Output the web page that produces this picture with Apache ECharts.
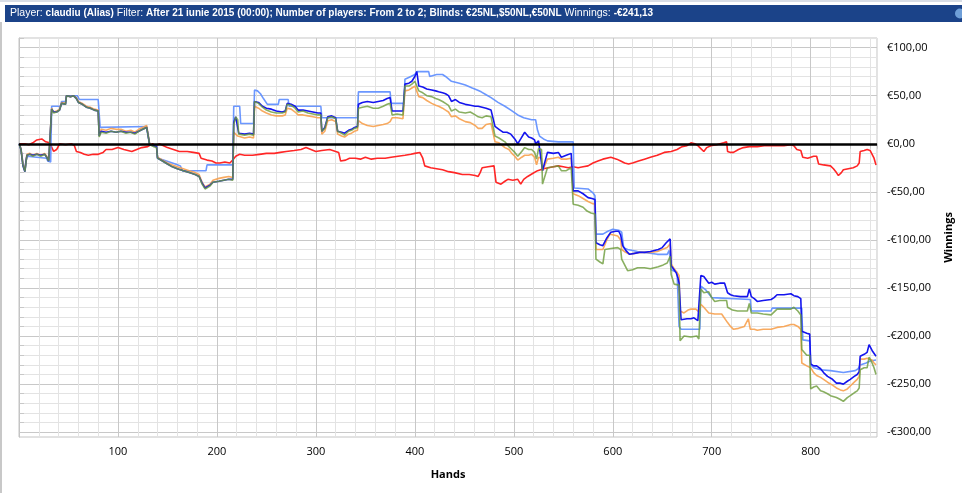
<!DOCTYPE html>
<html>
<head>
<meta charset="utf-8">
<script src="https://cdn.jsdelivr.net/npm/echarts@6/dist/echarts.min.js"></script>
<style>
  html, body { margin: 0; padding: 0; background: #fff; }
  #chart { width: 962px; height: 493px; }
</style>
</head>
<body>
<div id="chart"></div>
<script>
// hand ranges / tick labels
var handMax = 867;
var yMin = -305, yMax = 110;
var yLabelValues = [-300, -250, -200, -150, -100, -50, 0, 50, 100];
var yTickValues = [];
for (var t = -300; t <= 110; t += 10) yTickValues.push(t);

// red line (non-showdown)
var redLine = [[0,0],[6,0],[10,-1],[14,1],[18,4],[20,6],[23,5],[27,2],[31,1],[33,1],[35,-8],[38,-6],[41,0],[47,-1],[53,0],[56,-2],[58,-8],[62,-9],[66,-11],[70,-12],[75,-11],[80,-11],[85,-9],[88,-6],[94,-6],[100,-4],[106,-6],[110,-7],[114,-8],[119,-6],[124,-4],[130,-3],[135,0],[138,-2],[142,0],[146,-2],[150,-4],[156,-6],[162,-8],[170,-8],[176,-9],[182,-10],[184,-15],[186,-17],[190,-17],[195,-18],[199,-20],[203,-20],[208,-19],[213,-20],[216,-17],[219,-13],[223,-11],[228,-12],[236,-12],[243,-11],[250,-10],[258,-10],[264,-9],[270,-8],[278,-7],[285,-6],[290,-4],[295,-6],[300,-8],[306,-7],[314,-6],[320,-8],[323,-9],[325,-18],[330,-17],[334,-15],[340,-15],[345,-16],[350,-14],[356,-16],[362,-15],[370,-15],[376,-14],[383,-13],[390,-12],[396,-11],[400,-10],[405,-9],[408,-15],[410,-23],[416,-25],[422,-26],[428,-27],[434,-29],[440,-30],[448,-32],[455,-32],[461,-33],[464,-34],[466,-30],[468,-25],[474,-24],[480,-23],[481,-24],[482,-40],[487,-42],[491,-39],[494,-37],[499,-38],[504,-37],[507,-42],[510,-37],[514,-34],[519,-31],[524,-28],[530,-26],[535,-25],[540,-24],[545,-23],[550,-24],[555,-25],[560,-24],[565,-25],[570,-24],[575,-23],[580,-20],[585,-18],[590,-16],[598,-14],[604,-16],[608,-18],[612,-20],[616,-21],[620,-20],[626,-18],[632,-16],[638,-14],[645,-12],[652,-9],[659,-8],[665,-6],[670,-3],[675,-2],[679,1],[683,0],[686,-2],[689,-5],[692,-8],[695,-4],[699,-2],[705,-1],[712,1],[713,3],[715,2],[716,-8],[719,-9],[722,-9],[727,-6],[732,-4],[738,-3],[746,-3],[753,-2],[760,-2],[766,-2],[773,-2],[780,-1],[783,-2],[786,-6],[790,-7],[792,-14],[797,-15],[800,-14],[803,-13],[806,-13],[808,-21],[813,-22],[820,-23],[823,-26],[826,-30],[828,-33],[831,-30],[833,-27],[838,-26],[843,-25],[847,-23],[849,-20],[850,-8],[854,-7],[857,-6],[860,-7],[862,-9],[864,-15],[866,-22]];

// light blue line
var lightBlueLine = [[0,0],[2,-5],[4,-20],[6,-28],[7,-19],[8,-13],[10,-15],[28,-15],[29,-18],[32,-19],[33,39],[42,39],[43,44],[47,44],[48,50],[59,50],[61,46],[80,46],[82,17],[129,18],[131,20],[132,-1],[136,-2],[139,-2],[140,-15],[146,-17],[152,-19],[158,-21],[163,-23],[165,-28],[189,-28],[190,-22],[216,-22],[217,39],[223,39],[224,21],[237,21],[238,56],[241,55],[244,52],[247,47],[251,41],[262,41],[263,46],[272,46],[273,39],[305,39],[306,27],[342,27],[343,54],[375,54],[376,42],[389,42],[390,67],[396,70],[400,72],[402,75],[414,75],[415,70],[417,69],[422,72],[428,72],[431,70],[437,65],[445,63],[451,61],[458,58],[463,56],[467,54],[472,51],[477,48],[484,43],[491,39],[497,35],[504,30],[510,27],[518,25],[522,25],[524,14],[526,8],[530,5],[534,3],[545,2],[560,2],[561,-46],[575,-47],[580,-51],[582,-54],[583,-94],[590,-94],[595,-91],[600,-89],[606,-90],[609,-92],[611,-108],[615,-110],[625,-112],[632,-113],[645,-115],[655,-115],[657,-111],[659,-131],[665,-134],[667,-190],[669,-193],[688,-193],[689,-148],[694,-152],[700,-160],[702,-162],[739,-162],[740,-174],[760,-174],[761,-171],[791,-171],[792,-204],[799,-205],[800,-230],[803,-233],[810,-235],[820,-236],[833,-238],[845,-236],[848,-234],[850,-230],[856,-228],[860,-226],[866,-225]];

// orange line
var orangeLine = [[0,0],[2,-5],[4,-21],[6,-28],[7,-19],[8,-11],[11,-10],[14,-12],[18,-10],[22,-12],[26,-10],[28,-13],[30,-17],[32,-18],[33,37],[35,33],[38,34],[41,36],[43,43],[45,45],[47,42],[48,50],[52,49],[55,50],[58,48],[60,44],[64,42],[68,39],[72,38],[76,36],[80,35],[81,9],[83,15],[88,14],[93,16],[98,15],[103,15],[108,13],[113,14],[117,12],[121,15],[125,17],[129,19],[131,17],[132,0],[136,-2],[139,-3],[140,-14],[145,-17],[150,-20],[155,-22],[160,-24],[166,-26],[172,-28],[178,-30],[182,-32],[185,-40],[188,-45],[190,-46],[193,-42],[196,-38],[202,-36],[207,-35],[212,-34],[216,-35],[217,12],[219,14],[221,8],[222,6],[228,6],[233,7],[237,6],[238,39],[242,37],[246,34],[250,32],[255,30],[260,29],[266,29],[269,30],[271,37],[275,36],[279,33],[282,30],[287,30],[292,29],[297,28],[302,27],[305,27],[306,10],[309,13],[312,24],[316,25],[320,23],[322,10],[326,8],[329,7],[333,10],[336,11],[339,13],[342,14],[343,24],[347,21],[352,19],[358,18],[363,19],[368,20],[372,21],[375,23],[377,27],[382,27],[388,26],[390,55],[394,56],[397,58],[400,60],[402,61],[404,49],[408,48],[412,45],[417,42],[421,40],[424,39],[428,37],[431,35],[434,33],[437,28],[441,29],[445,26],[451,23],[456,22],[461,19],[464,16],[468,16],[472,20],[477,21],[479,20],[481,2],[485,1],[491,-4],[495,-6],[498,-10],[501,-13],[504,-17],[508,-14],[511,-12],[515,-12],[518,-11],[521,-14],[523,-22],[525,-14],[528,-15],[529,-28],[531,-28],[534,-16],[540,-15],[545,-14],[548,-16],[553,-16],[558,-15],[559,-16],[560,-52],[565,-54],[570,-57],[575,-60],[579,-62],[582,-63],[583,-110],[587,-110],[590,-110],[594,-100],[597,-94],[601,-95],[605,-96],[608,-100],[609,-110],[613,-113],[617,-115],[622,-114],[627,-113],[632,-113],[638,-113],[645,-112],[650,-110],[655,-108],[658,-104],[659,-125],[662,-130],[665,-134],[667,-137],[668,-174],[672,-176],[676,-173],[679,-172],[684,-172],[687,-175],[688,-176],[689,-167],[692,-170],[694,-172],[697,-176],[703,-177],[710,-177],[716,-186],[719,-190],[722,-193],[727,-192],[733,-190],[737,-182],[739,-193],[743,-193],[746,-194],[752,-193],[760,-193],[766,-191],[773,-190],[780,-188],[783,-188],[787,-190],[790,-193],[791,-228],[796,-231],[800,-233],[803,-238],[806,-241],[810,-243],[813,-245],[817,-248],[822,-251],[826,-254],[830,-256],[833,-257],[837,-255],[840,-252],[844,-248],[847,-245],[849,-242],[850,-224],[854,-224],[857,-223],[859,-221],[862,-225],[864,-228],[866,-230]];

// blue line
var blueLine = [[0,0],[2,-6],[4,-23],[6,-29],[7,-19],[8,-12],[11,-11],[14,-12],[18,-11],[22,-12],[26,-11],[28,-14],[30,-18],[32,-19],[33,36],[35,33],[38,33],[41,35],[43,42],[45,44],[47,41],[48,50],[52,49],[55,50],[58,47],[60,43],[64,41],[68,38],[72,37],[76,35],[80,34],[81,8],[83,13],[88,12],[93,13],[98,12],[103,13],[108,12],[113,12],[117,11],[121,13],[125,15],[129,17],[131,16],[132,-1],[136,-2],[139,-3],[140,-15],[145,-18],[150,-21],[155,-24],[160,-26],[166,-28],[172,-30],[178,-32],[182,-34],[185,-41],[188,-46],[190,-47],[193,-43],[196,-40],[202,-39],[207,-38],[212,-37],[216,-37],[217,22],[219,28],[221,26],[222,11],[228,10],[233,11],[237,10],[238,44],[242,43],[246,39],[250,37],[255,36],[260,34],[266,33],[269,34],[271,42],[275,41],[279,39],[282,35],[287,35],[292,34],[297,33],[302,32],[305,32],[306,13],[309,17],[312,28],[316,29],[320,27],[322,13],[326,12],[329,11],[333,14],[336,15],[339,17],[342,18],[343,41],[347,43],[352,44],[358,43],[363,44],[368,45],[372,47],[375,48],[377,34],[382,34],[388,34],[390,62],[394,63],[397,65],[400,70],[402,75],[404,60],[408,59],[412,57],[417,56],[421,55],[424,54],[428,53],[431,52],[434,50],[437,44],[441,46],[445,43],[451,41],[456,40],[461,39],[464,39],[468,38],[472,37],[477,35],[479,35],[481,18],[485,15],[489,12],[493,12],[497,10],[501,5],[504,0],[507,5],[511,12],[515,7],[518,6],[521,4],[522,0],[525,3],[527,5],[529,-28],[531,-28],[534,-9],[540,-10],[545,-9],[548,-14],[553,-12],[558,-10],[559,-11],[560,-49],[565,-49],[570,-52],[575,-56],[579,-57],[582,-58],[583,-103],[587,-105],[590,-106],[594,-98],[598,-92],[603,-91],[606,-91],[608,-95],[610,-106],[614,-112],[617,-115],[622,-114],[627,-113],[632,-113],[638,-112],[642,-111],[646,-110],[650,-108],[654,-103],[656,-101],[658,-99],[659,-127],[662,-131],[664,-134],[666,-140],[667,-145],[669,-183],[675,-182],[679,-182],[682,-181],[686,-184],[688,-186],[689,-137],[692,-138],[694,-139],[697,-145],[700,-144],[703,-146],[708,-145],[713,-145],[716,-155],[719,-157],[722,-158],[729,-159],[736,-159],[738,-151],[740,-159],[743,-161],[746,-164],[752,-163],[760,-162],[763,-160],[766,-157],[773,-157],[780,-156],[783,-158],[787,-159],[790,-161],[791,-195],[796,-197],[799,-198],[800,-229],[803,-231],[806,-231],[810,-234],[813,-238],[817,-242],[822,-245],[826,-249],[830,-249],[833,-250],[837,-247],[840,-245],[844,-242],[847,-240],[849,-237],[850,-221],[854,-219],[857,-217],[859,-209],[862,-215],[864,-217],[866,-221]];

// green line (winnings)
var greenLine = [[0,0],[2,-6],[4,-22],[6,-29],[7,-20],[8,-12],[11,-11],[14,-13],[18,-11],[22,-13],[26,-11],[28,-14],[30,-18],[32,-19],[33,36],[35,32],[38,33],[41,35],[43,42],[45,44],[47,41],[48,50],[52,49],[55,50],[58,47],[60,43],[64,41],[68,38],[72,37],[76,35],[80,34],[81,7],[83,12],[88,11],[93,13],[98,12],[103,13],[108,11],[113,12],[117,10],[121,13],[125,15],[129,17],[131,15],[132,-1],[136,-3],[139,-4],[140,-15],[145,-18],[150,-21],[155,-24],[160,-26],[166,-28],[172,-30],[178,-32],[182,-34],[185,-42],[188,-47],[190,-48],[193,-44],[196,-40],[202,-39],[207,-38],[212,-37],[216,-38],[217,20],[219,28],[221,25],[222,10],[228,9],[233,10],[237,9],[238,44],[242,42],[246,38],[250,35],[255,33],[260,32],[266,32],[269,33],[271,41],[275,40],[279,37],[282,33],[287,34],[292,32],[297,31],[302,30],[305,30],[306,13],[309,16],[312,27],[316,28],[320,26],[322,13],[326,11],[329,9],[333,13],[336,14],[339,16],[342,17],[343,37],[347,38],[352,39],[358,37],[363,37],[368,39],[372,41],[375,42],[377,30],[382,31],[388,30],[390,60],[394,60],[397,62],[400,65],[402,67],[404,55],[408,53],[412,50],[417,49],[421,47],[424,46],[428,44],[431,42],[434,40],[437,34],[441,36],[445,33],[451,32],[456,33],[461,30],[464,28],[468,27],[472,29],[477,28],[479,28],[481,8],[485,6],[491,2],[495,-3],[498,-6],[501,-9],[504,-13],[508,-8],[511,-4],[515,-6],[518,-6],[521,-9],[523,-16],[525,-5],[528,-6],[529,-42],[531,-43],[534,-25],[540,-24],[545,-23],[548,-28],[553,-28],[558,-25],[559,-26],[560,-63],[565,-64],[570,-66],[574,-70],[578,-72],[582,-73],[583,-120],[587,-123],[590,-125],[592,-110],[598,-109],[605,-108],[608,-110],[609,-120],[612,-126],[615,-132],[620,-131],[625,-129],[632,-129],[638,-130],[646,-128],[651,-126],[655,-124],[658,-117],[659,-136],[662,-146],[667,-147],[668,-205],[672,-200],[679,-201],[685,-200],[687,-203],[688,-203],[689,-151],[692,-155],[694,-156],[697,-154],[700,-160],[703,-164],[708,-163],[715,-163],[716,-170],[721,-173],[726,-174],[736,-174],[738,-166],[740,-176],[746,-176],[752,-177],[760,-178],[766,-172],[773,-172],[780,-172],[783,-170],[787,-174],[790,-178],[791,-214],[796,-220],[799,-220],[800,-255],[803,-253],[806,-252],[810,-257],[813,-258],[817,-260],[820,-262],[826,-264],[830,-266],[833,-268],[837,-264],[840,-262],[844,-259],[847,-257],[849,-254],[850,-235],[854,-233],[857,-233],[859,-222],[862,-228],[864,-233],[866,-240]];

var FONT = '"Open Sans", "Noto Sans", sans-serif';
var TITLE_FONT = '"Liberation Sans", Arial, sans-serif';

function euro(v) {
    return (v < 0 ? '-€' : '€') + Math.abs(v) + ',00';
}

function lineSeries(name, data, color, opacity) {
    return {
        name: name,
        type: 'line',
        data: data,
        showSymbol: false,
        symbol: 'none',
        silent: true,
        lineStyle: { color: color, width: 1.6, opacity: opacity }
    };
}

const chart = echarts.init(document.getElementById('chart'));

const option = {
    animation: false,
    backgroundColor: '#ffffff',
    grid: {
        left: 19, top: 38, right: 83, bottom: 56,
        show: true, borderColor: '#c4c4c4', borderWidth: 1
    },
    graphic: [
        { type: 'rect', shape: { x: 0, y: 0, width: 962, height: 2 }, style: { fill: '#d8dde6' } },
        { type: 'rect', shape: { x: 0, y: 22, width: 2, height: 471 }, style: { fill: '#c8c8c8' } },
        { type: 'rect', shape: { x: 5, y: 5, width: 957, height: 17 }, style: { fill: '#1b4389' } },
        { type: 'circle', shape: { cx: 960, cy: 13.5, r: 5 }, style: { fill: '#6f9fd8' } },
        {
            type: 'text', left: 10, top: 8,
            style: {
                text: '{n|Player: }{b|claudiu (Alias)}{n| Filter: }{b|After 21 iunie 2015 (00:00); Number of players: From 2 to 2; Blinds: €25NL,$50NL,€50NL}{n| Winnings: }{b|-€241,13}',
                rich: {
                    n: { fill: '#ffffff', fontSize: 10.5, fontFamily: TITLE_FONT },
                    b: { fill: '#ffffff', fontSize: 10, fontFamily: TITLE_FONT, fontWeight: 'bold' }
                }
            }
        }
    ],
    xAxis: {
        type: 'value',
        min: 0, max: handMax, interval: 20,
        name: 'Hands',
        nameLocation: 'middle',
        nameGap: 32,
        nameTextStyle: { fontFamily: FONT, fontSize: 11, fontWeight: 'bold', color: '#000' },
        axisLine: { show: true, lineStyle: { color: '#c4c4c4' } },
        axisTick: { show: true, length: 5, lineStyle: { color: '#c8c8c8' } },
        axisLabel: {
            margin: 9, color: '#000', fontFamily: FONT, fontSize: 11,
            formatter: function (v) { return (v > 0 && v % 100 === 0) ? String(v) : ''; }
        },
        splitLine: {
            show: true,
            lineStyle: { color: ['#c8c8c8', '#e3e3e3', '#e3e3e3', '#e3e3e3', '#e3e3e3'], width: 1 }
        }
    },
    yAxis: {
        type: 'value',
        position: 'right',
        min: yMin, max: yMax,
        name: 'Winnings',
        nameLocation: 'middle',
        nameRotate: 90,
        nameGap: 66,
        nameTextStyle: { fontFamily: FONT, fontSize: 11, fontWeight: 'bold', color: '#000' },
        axisLine: { show: true, lineStyle: { color: '#c4c4c4' } },
        axisTick: { show: true, length: 5, customValues: yTickValues, lineStyle: { color: '#c8c8c8' } },
        axisLabel: {
            margin: 10, color: '#000', fontFamily: FONT, fontSize: 11,
            customValues: yLabelValues,
            formatter: euro
        },
        splitLine: {
            show: true,
            lineStyle: { color: ['#c8c8c8', '#e3e3e3', '#e3e3e3', '#e3e3e3', '#e3e3e3'], width: 1 }
        }
    },
    series: [
        lineSeries('Non-showdown', redLine, '#ff2626', 1),
        lineSeries('All-in adjusted', lightBlueLine, '#5b8cff', 0.9),
        lineSeries('EV', orangeLine, '#f7a14f', 0.9),
        lineSeries('Showdown', blueLine, '#1414ee', 1),
        lineSeries('Winnings', greenLine, '#6b9b3a', 0.8),
        {
            name: 'zero',
            type: 'line',
            data: [],
            z: 10,
            markLine: {
                silent: true,
                symbol: 'none',
                label: { show: false },
                lineStyle: { color: '#000', width: 2.5, type: 'solid' },
                data: [{ yAxis: 0 }]
            }
        }
    ]
};

chart.setOption(option);
</script>
</body>
</html>
